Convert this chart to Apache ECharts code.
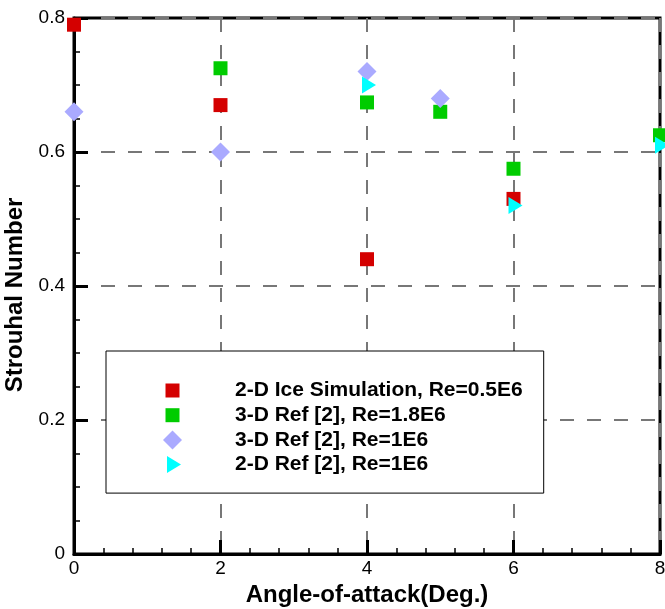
<!DOCTYPE html>
<html><head><meta charset="utf-8">
<script src="https://cdn.jsdelivr.net/npm/echarts@6/dist/echarts.min.js"></script>
<style>html,body{margin:0;padding:0;background:#fff}#c{width:665px;height:609px}</style>
</head><body><div id="c"></div>
<script>
// Data (angle-of-attack in degrees, Strouhal number)
const iceSim2D_x = [0, 2, 4, 6];
const iceSim2D_y = [0.79, 0.67, 0.44, 0.53];
const ref3D_18_x = [2, 4, 5, 6, 8];
const ref3D_18_y = [0.725, 0.674, 0.66, 0.575, 0.625];
const ref3D_1_x = [0, 2, 4, 5];
const ref3D_1_y = [0.66, 0.60, 0.72, 0.68];
const ref2D_1_x = [4, 6, 8];
const ref2D_1_y = [0.70, 0.52, 0.61];
const seriesNames = ['2-D Ice Simulation, Re=0.5E6', '3-D Ref [2], Re=1.8E6', '3-D Ref [2], Re=1E6', '2-D Ref [2], Re=1E6'];
const xTicks = [0, 2, 4, 6, 8];
const yTicks = [0, 0.2, 0.4, 0.6, 0.8];

const zip = (a, b) => a.map((v, i) => [v, b[i]]);
const font = '"Liberation Sans", Arial, sans-serif';
const tri = 'path://M0,0L14,8.5L0,17Z';
// legend icons padded into a 19x19 box
const sqIcon = 'path://M0,0M2.5,2.5h14v14h-14zM19,19';
const triIcon = 'path://M0,0M4,1L18,9.5L4,18ZM19,19';

const chart = echarts.init(document.getElementById('c'));
chart.setOption({
  animation: false,
  grid: { left: 74, right: 5, top: 18, bottom: 55, show: true, borderColor: '#000', borderWidth: 3, backgroundColor: 'transparent', outerBoundsMode: 'none', containLabel: false },
  xAxis: {
    type: 'value', min: xTicks[0], max: xTicks[xTicks.length - 1], interval: 2,
    name: 'Angle-of-attack(Deg.)', nameLocation: 'middle', nameGap: 20,
    nameTextStyle: { fontFamily: font, fontWeight: 'bold', fontSize: 24, color: '#000' },
    axisLine: { lineStyle: { color: '#000', width: 3 } },
    axisTick: { inside: true, length: 14, lineStyle: { color: '#000', width: 3 } },
    minorTick: { show: true, splitNumber: 5, length: 6, lineStyle: { color: '#000', width: 1.5 } },
    axisLabel: { fontFamily: font, fontSize: 19, color: '#000', margin: 5 },
    splitLine: { show: true, lineStyle: { color: '#777', width: 2, type: [14, 13] } }
  },
  yAxis: {
    type: 'value', min: yTicks[0], max: yTicks[yTicks.length - 1], interval: 0.2,
    name: 'Strouhal Number', nameLocation: 'middle', nameGap: 36,
    nameTextStyle: { fontFamily: font, fontWeight: 'bold', fontSize: 24, color: '#000', padding: [0, 18, 0, 0] },
    axisLine: { lineStyle: { color: '#000', width: 3 } },
    axisTick: { inside: true, length: 14, lineStyle: { color: '#000', width: 3 } },
    minorTick: { show: true, splitNumber: 4, length: 6, lineStyle: { color: '#000', width: 1.5 } },
    axisLabel: { fontFamily: font, fontSize: 19, color: '#000', margin: 9, formatter: v => v === 0 ? '0' : v.toFixed(1) },
    splitLine: { show: true, lineStyle: { color: '#777', width: 2, type: [14, 13] } }
  },
  legend: {
    orient: 'vertical', left: 106, top: 351,
    padding: [29, 21, 18, 57],
    backgroundColor: '#fff', borderColor: '#000', borderWidth: 1,
    itemWidth: 19, itemHeight: 19, itemGap: 3.7,
    textStyle: { fontFamily: font, fontWeight: 'bold', fontSize: 21, color: '#000', padding: [0, 0, 0, 48], lineHeight: 21 },
    data: [
      { name: seriesNames[0], icon: sqIcon },
      { name: seriesNames[1], icon: sqIcon },
      { name: seriesNames[2], icon: 'diamond' },
      { name: seriesNames[3], icon: triIcon }
    ]
  },
  series: [
    { name: seriesNames[0], type: 'scatter', symbol: 'rect', symbolSize: 14, itemStyle: { color: '#d40000', opacity: 1 }, data: zip(iceSim2D_x, iceSim2D_y), z: 3 },
    { name: seriesNames[1], type: 'scatter', symbol: 'rect', symbolSize: 14, itemStyle: { color: '#00cc00', opacity: 1 }, data: zip(ref3D_18_x, ref3D_18_y), z: 4 },
    { name: seriesNames[2], type: 'scatter', symbol: 'diamond', symbolSize: 19, itemStyle: { color: '#aaaaff', opacity: 1 }, data: zip(ref3D_1_x, ref3D_1_y), z: 5 },
    { name: seriesNames[3], type: 'scatter', symbol: tri, symbolSize: [14, 17], symbolOffset: [2, 0], itemStyle: { color: '#00ffff', opacity: 1 }, data: zip(ref2D_1_x, ref2D_1_y), z: 6 }
  ]
});
</script></body></html>
